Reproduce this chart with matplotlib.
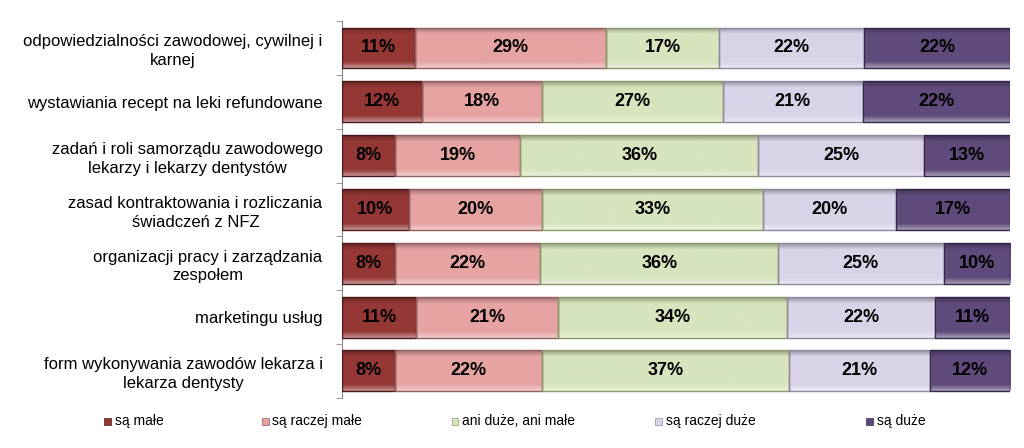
import numpy as np
import matplotlib
matplotlib.use("Agg")
import matplotlib.pyplot as plt
from matplotlib.patches import Rectangle
from matplotlib.colors import to_rgb

plt.rcParams['font.family'] = ['Liberation Sans', 'DejaVu Sans']

categories = [
    "odpowiedzialności zawodowej, cywilnej i\nkarnej",
    "wystawiania recept na leki refundowane",
    "zadań i roli samorządu zawodowego\nlekarzy i lekarzy dentystów",
    "zasad kontraktowania i rozliczania\nświadczeń z NFZ",
    "organizacji pracy i zarządzania\nzespołem",
    "marketingu usług",
    "form wykonywania zawodów lekarza i\nlekarza dentysty",
]
series_names = ["są małe", "są raczej małe", "ani duże, ani małe", "są raczej duże", "są duże"]
sa_male = [11, 12, 8, 10, 8, 11, 8]
raczej_male = [29, 18, 19, 20, 22, 21, 22]
ani_ani = [17, 27, 36, 33, 36, 34, 37]
raczej_duze = [22, 21, 25, 20, 25, 22, 21]
sa_duze = [22, 22, 13, 17, 10, 11, 12]

colors = ["#953735", "#E6A3A2", "#D7E4BD", "#D9D3E8", "#604A7B"]
edges = ["#4a1a19", "#8f5f5e", "#8a9a6c", "#8f889f", "#33264a"]

data = np.array([sa_male, raczej_male, ani_ani, raczej_duze, sa_duze], dtype=float)
shares = data / data.sum(axis=0) * 100  # 100% stacked like the original


def bevel(ax, bar, base):
    # vertical shading: light top edge, flat middle, dark bottom edge
    x0, y0 = bar.get_x(), bar.get_y()
    w, h = bar.get_width(), bar.get_height()
    c = np.array(to_rgb(base))
    t = np.linspace(0, 1, 40)[:, None]
    light = c + (1 - c) * 0.45
    dark = c * 0.7
    grad = np.where(t < 0.15, light + (c - light) * (t / 0.15),
                    np.where(t > 0.85, c + (dark - c) * ((t - 0.85) / 0.15), c))
    img = np.repeat(grad[:, None, :], 2, axis=1)
    im = ax.imshow(img, extent=(x0, x0 + w, y0, y0 + h), origin='upper',
                   aspect='auto', interpolation='bilinear', zorder=2)
    im.set_clip_path(bar)


fig = plt.figure(figsize=(10.24, 4.48), dpi=100)
ax = fig.add_axes([0.334, 0.112, 0.652, 0.841])

y = np.arange(len(categories))
left = np.zeros(len(categories))
for i in range(len(series_names)):
    bars = ax.barh(y, shares[i], left=left, height=0.76, color=colors[i],
                   edgecolor=edges[i], linewidth=1.0, zorder=3)
    for b in bars:
        b.set_facecolor('none')
        bevel(ax, b, colors[i])
    for j in range(len(categories)):
        ax.text(left[j] + shares[i][j] / 2, y[j], f"{int(data[i][j])}%",
                ha='center', va='center', fontsize=13, fontweight='bold',
                color='black', zorder=4)
    left += shares[i]

ax.set_xlim(0, 100)
ax.set_ylim(len(categories) - 0.5, -0.5)
ax.set_xticks([])
ax.set_yticks(y)
ax.set_yticklabels(categories, fontsize=12, multialignment='center', linespacing=1.3)
ax.tick_params(axis='y', which='major', length=0, pad=14)
ax.set_yticks(np.arange(-0.5, len(categories)), minor=True)
ax.tick_params(axis='y', which='minor', length=4, color='#888888')
for s in ['top', 'right', 'bottom']:
    ax.spines[s].set_visible(False)
ax.spines['left'].set_color('#888888')

# legend along the bottom
leg_x = [0.102, 0.256, 0.441, 0.640, 0.846]
for i, name in enumerate(series_names):
    fig.patches.append(Rectangle((leg_x[i], 0.052), 0.0065, 0.016, transform=fig.transFigure,
                                 facecolor=colors[i], edgecolor=edges[i], linewidth=0.5))
    fig.text(leg_x[i] + 0.010, 0.060, name, fontsize=10, va='center', ha='left')

fig.savefig("out.png", dpi=100)
